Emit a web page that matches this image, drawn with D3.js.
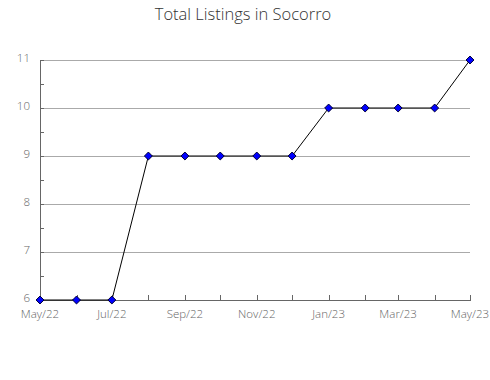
<!DOCTYPE html>
<html>
<head>
<meta charset="utf-8">
<script src="https://cdn.jsdelivr.net/npm/d3@7"></script>
<style>
  body { margin: 0; background: #fff; }
  text { font-family: "Open Sans", sans-serif; font-weight: 300; }
</style>
</head>
<body>
<svg id="chart" width="490" height="380"></svg>
<script>
const months = ["2022-05","2022-06","2022-07","2022-08","2022-09","2022-10","2022-11",
                "2022-12","2023-01","2023-02","2023-03","2023-04","2023-05"];
const listings = [6, 6, 6, 9, 9, 9, 9, 9, 10, 10, 10, 10, 11];
const yTicks = [6, 7, 8, 9, 10, 11];
const title = "Total Listings in Socorro";

const parseMonth = d3.timeParse("%Y-%m");
const dates = months.map(parseMonth);

const svg = d3.select("#chart");
const mLeft = 40, mRight = 470, mTop = 60, mBottom = 300;

const x = d3.scaleTime().domain(d3.extent(dates)).range([mLeft, mRight]);
const y = d3.scaleLinear().domain([6, 11]).range([mBottom, mTop]);

svg.append("text")
  .attr("x", 243).attr("y", 20)
  .attr("text-anchor", "middle")
  .attr("font-size", 16.5)
  .attr("fill", "#333")
  .text(title);

// horizontal grid
svg.append("g").selectAll("line")
  .data(yTicks.filter(d => d > 6))
  .join("line")
  .attr("x1", mLeft).attr("x2", mRight)
  .attr("y1", d => y(d)).attr("y2", d => y(d))
  .attr("stroke", "#aaa").attr("stroke-width", 1)
  .attr("shape-rendering", "crispEdges");

// y axis
const yAxis = d3.axisRight(y)
  .tickValues(d3.range(6, 11.01, 0.5))
  .tickSize(4)
  .tickSizeOuter(0)
  .tickFormat("");
const gy = svg.append("g")
  .attr("transform", `translate(${mLeft},0)`)
  .call(yAxis);
gy.select(".domain").attr("stroke", "#666").attr("shape-rendering", "crispEdges");
gy.selectAll(".tick line").attr("stroke", "#666").attr("shape-rendering", "crispEdges");

svg.append("g").selectAll("text")
  .data(yTicks)
  .join("text")
  .attr("x", 30)
  .attr("y", d => y(d) + 2)
  .attr("text-anchor", "end")
  .attr("font-size", 11.5)
  .attr("fill", "#666")
  .text(d => d);

// x axis
const xAxis = d3.axisTop(x)
  .tickValues(dates)
  .tickSize(5)
  .tickSizeOuter(0)
  .tickFormat("");
const gx = svg.append("g")
  .attr("transform", `translate(0,${mBottom})`)
  .call(xAxis);
gx.select(".domain").attr("stroke", "#666").attr("shape-rendering", "crispEdges");
gx.selectAll(".tick line").attr("stroke", "#666").attr("shape-rendering", "crispEdges");

const fmt = d3.timeFormat("%b/%y");
svg.append("g").selectAll("text")
  .data(dates.filter((d, i) => i % 2 === 0))
  .join("text")
  .attr("x", d => x(d))
  .attr("y", 318)
  .attr("text-anchor", "middle")
  .attr("font-size", 11.5)
  .attr("fill", "#666")
  .text(d => fmt(d));

// line
const line = d3.line()
  .x((d, i) => x(dates[i]))
  .y(d => y(d));
svg.append("path")
  .datum(listings)
  .attr("d", line)
  .attr("fill", "none")
  .attr("stroke", "#000")
  .attr("stroke-width", 1);

// markers
svg.append("g").selectAll("path")
  .data(listings)
  .join("path")
  .attr("d", d3.symbol(d3.symbolDiamond2, 40))
  .attr("transform", (d, i) => `translate(${x(dates[i])},${y(d)})`)
  .attr("fill", "#0000ff")
  .attr("stroke", "#000033")
  .attr("stroke-width", 1);
</script>
</body>
</html>
